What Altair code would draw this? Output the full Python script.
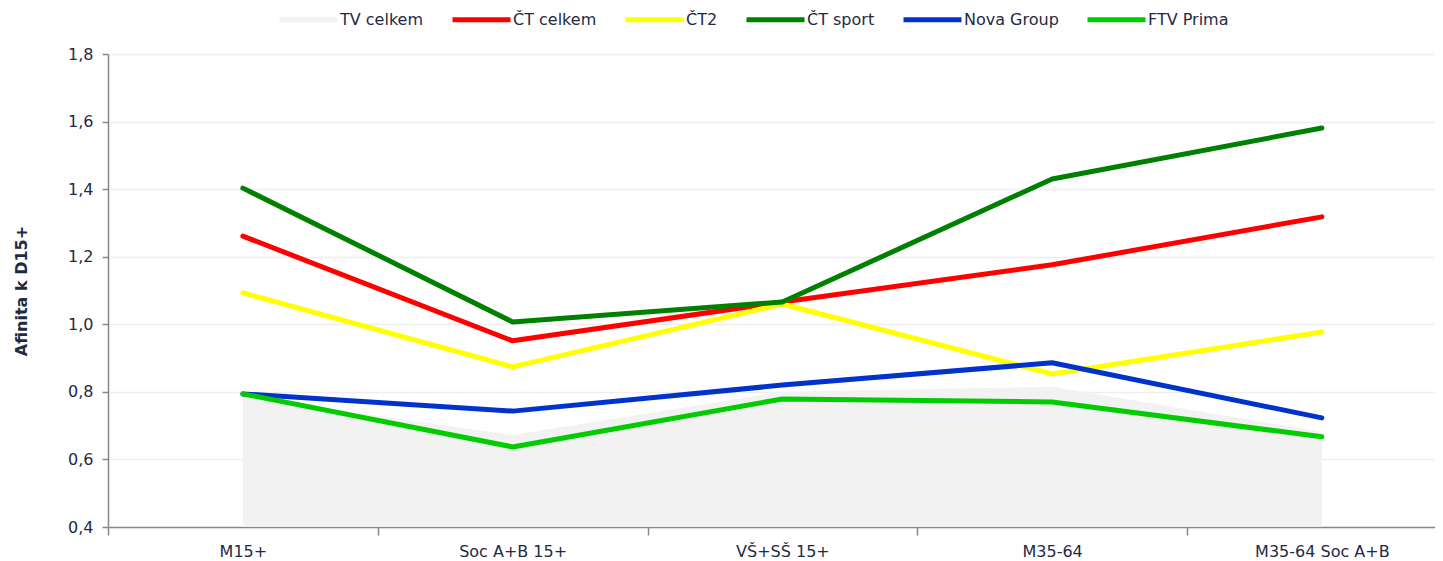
import altair as alt
import pandas as pd

categories = ["M15+", "Soc A+B 15+", "VŠ+SŠ 15+", "M35-64", "M35-64 Soc A+B"]
series_names = ["TV celkem", "ČT celkem", "ČT2", "ČT sport", "Nova Group", "FTV Prima"]
series_colors = ["#f2f2f2", "#ff0000", "#ffff00", "#008000", "#0033cc", "#00cc00"]

tv_celkem = [0.786, 0.672, 0.800, 0.815, 0.682]
ct_celkem = [1.261, 0.951, 1.066, 1.176, 1.318]
ct2 = [1.093, 0.874, 1.060, 0.853, 0.977]
ct_sport = [1.403, 1.007, 1.066, 1.430, 1.581]
nova = [0.794, 0.743, 0.820, 0.886, 0.723]
prima = [0.794, 0.637, 0.779, 0.770, 0.667]

idx = list(range(len(categories)))
area_df = pd.DataFrame({"idx": idx, "cat": categories, "val": tv_celkem, "series": "TV celkem"})
rows = []
for name, vals in [("ČT celkem", ct_celkem), ("ČT2", ct2), ("ČT sport", ct_sport),
                   ("Nova Group", nova), ("FTV Prima", prima)]:
    for i, c, v in zip(idx, categories, vals):
        rows.append({"idx": i, "cat": c, "val": v, "series": name})
line_df = pd.DataFrame(rows)

FONT = "DejaVu Sans"
TXT = "#1f2a44"
W = 1327
STEP = 269.75
x_scale = alt.Scale(domain=[-0.5, -0.5 + W / STEP], nice=False, zero=False)
label_expr = "[" + ",".join("'" + c + "'" for c in categories) + "][round(datum.value)]"

x_label_axis = alt.Axis(values=idx, labelExpr=label_expr, ticks=False, labelPadding=16,
                        domainColor="#888888", domainWidth=1.5, grid=False, orient="bottom",
                        labelFont=FONT, labelFontSize=16, labelColor=TXT, labelAngle=0)
x_tick_axis = alt.Axis(values=[i - 0.5 for i in idx], labels=False, tickSize=8,
                       tickColor="#888888", tickWidth=1.5, domain=False, grid=False,
                       orient="bottom")

y_enc = alt.Y("val:Q", title="Afinita k D15+",
              scale=alt.Scale(domain=[0.4, 1.8], nice=False, zero=False),
              axis=alt.Axis(values=[0.4, 0.6, 0.8, 1.0, 1.2, 1.4, 1.6, 1.8],
                            labelExpr="replace(format(datum.value, '.1f'), '.', ',')",
                            tickSize=6, labelPadding=9, domainColor="#888888",
                            tickColor="#888888", domainWidth=1.5, tickWidth=1.5,
                            gridColor="#eeeeee", gridWidth=1.5,
                            labelFont=FONT, labelFontSize=16, labelColor=TXT,
                            titleFont=FONT, titleFontSize=16, titleFontWeight="bold",
                            titleColor=TXT, titlePadding=38))
color_enc = alt.Color("series:N",
                      scale=alt.Scale(domain=series_names, range=series_colors),
                      legend=alt.Legend(title=None, orient="none", direction="horizontal",
                                        legendX=169, legendY=-66,
                                        symbolType="stroke", symbolSize=3364,
                                        symbolStrokeWidth=5, labelOffset=0,
                                        columnPadding=18, labelFont=FONT,
                                        labelFontSize=16, labelColor=TXT,
                                        symbolOpacity=1))

area = alt.Chart(area_df).mark_area(color="#f2f2f2", opacity=1).encode(
    x=alt.X("idx:Q", scale=x_scale, title=None, axis=x_label_axis),
    y=y_enc, y2=alt.datum(0.4), color=color_enc)

lines = alt.Chart(line_df).mark_line(strokeWidth=5, strokeCap="round", strokeJoin="round").encode(
    x=alt.X("idx:Q", scale=x_scale, title=None, axis=x_tick_axis),
    y=y_enc, color=color_enc, order=alt.Order("idx:Q"))

chart = alt.layer(area, lines).resolve_axis(x="independent").properties(
    width=W, height=473,
    autosize=alt.AutoSizeParams(type="none"),
    padding={"left": 100, "top": 46, "right": 0, "bottom": 34},
).configure_view(stroke=None).configure(background="white")

chart.save("out.html", embed_options={"renderer": "svg", "actions": False})
